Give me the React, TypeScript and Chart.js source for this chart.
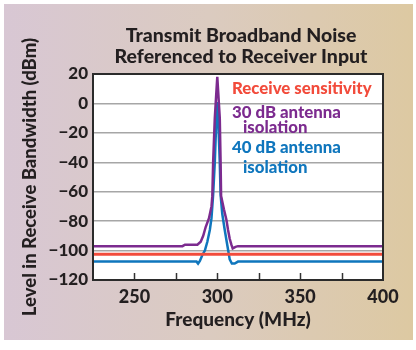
import { useEffect, useRef } from 'react';
import { Chart, registerables } from 'chart.js';

Chart.register(...registerables);

// ---- data ----
const titleLines = ['Transmit Broadband Noise', 'Referenced to Receiver Input'];
const xTitle = 'Frequency (MHz)';
const yTitle = 'Level in Receive Bandwidth (dBm)';
const xRange = [225, 400];
const yRange = [-120, 20];
const xTickStep = 25;
const xLabelStep = 50;
const yTickStep = 20;

const sensitivityFreq = [225, 400];
const sensitivityLevel = [-102.5, -102.5];

const iso30Freq = [225, 279, 280.5, 288, 290, 291.5, 293, 295, 296.5, 297, 297.5, 298.5, 300, 301.5, 302, 302.3, 304, 305.5, 306.5, 307.5, 308.5, 309.3, 311, 312.5, 400];
const iso30Level = [-97, -97, -96, -96, -94, -90, -84, -78, -70, -63, -40, -10, 18, -10, -40, -63, -72, -79, -86, -92, -96, -98.5, -97.5, -97, -97];

const iso40Freq = [225, 287.5, 288.4, 289.5, 291, 292.5, 294, 295.5, 296.5, 297.5, 298.5, 299.3, 300, 300.7, 301.5, 302, 303, 304.5, 306, 307.5, 308.8, 310.5, 312.5, 400];
const iso40Level = [-107.5, -107.5, -108.8, -107, -103, -100, -94, -86, -78, -62, -40, -15, 1, -15, -40, -62, -75, -86, -96, -106, -108.8, -108.8, -107.5, -107.5];

const legendLines = ['Receive sensitivity', '30 dB antenna', 'isolation', '40 dB antenna', 'isolation'];

// ---- styles ----
const RED = '#f24b3b';
const PURPLE = '#7c2b8f';
const BLUE = '#0f76bd';
const INK = '#231f20';
const FONT = 'Lato, "Open Sans", sans-serif';
const W = 900;
const legendColors = [RED, PURPLE, PURPLE, BLUE, BLUE];
const legendIndent = [0, 0, 11, 0, 11];
const legendBaseline = [20, 44, 59, 79, 99];

const toPoints = (xs: number[], ys: number[]) => xs.map((x, i) => ({ x, y: ys[i] }));

const decor = {
  id: 'decor',
  beforeDraw(chart: any) {
    const { ctx, chartArea: a } = chart;
    ctx.save();
    ctx.fillStyle = '#ffffff';
    ctx.fillRect(a.left, a.top, a.right - a.left, a.bottom - a.top);
    ctx.restore();
  },
  afterDraw(chart: any) {
    const { ctx, chartArea: a, scales } = chart;
    const xs = scales.x;
    ctx.save();
    ctx.strokeStyle = '#333333';
    ctx.lineWidth = 1.5;
    for (let v = xRange[0] + xTickStep; v < xRange[1]; v += xTickStep) {
      const px = Math.round(xs.getPixelForValue(v)) + 0.5;
      ctx.beginPath();
      ctx.moveTo(px, a.bottom);
      ctx.lineTo(px, a.bottom - 7);
      ctx.stroke();
    }
    ctx.strokeStyle = '#2b2b2b';
    ctx.lineWidth = 2;
    ctx.strokeRect(a.left, a.top, a.right - a.left, a.bottom - a.top);
    ctx.fillStyle = INK;
    ctx.font = `${W} 19.5px ${FONT}`;
    ctx.textAlign = 'center';
    ctx.textBaseline = 'alphabetic';
    const cx = (a.left + a.right) / 2 + 3;
    ctx.fillText(titleLines[0], cx, a.top - 32);
    ctx.fillText(titleLines[1], cx, a.top - 11);
    ctx.font = `${W} 16.8px ${FONT}`;
    ctx.textAlign = 'left';
    legendLines.forEach((t, i) => {
      ctx.fillStyle = legendColors[i];
      ctx.fillText(t, a.left + 139 + legendIndent[i], a.top + legendBaseline[i]);
    });
    ctx.restore();
  },
};

export default function App() {
  const ref = useRef<HTMLCanvasElement | null>(null);
  useEffect(() => {
    if (!ref.current) return;
    const chart = new Chart(ref.current, {
      type: 'line',
      data: {
        datasets: [
          { label: 'Receive sensitivity', data: toPoints(sensitivityFreq, sensitivityLevel), borderColor: RED, borderWidth: 3, pointRadius: 0, tension: 0 },
          { label: '30 dB antenna isolation', data: toPoints(iso30Freq, iso30Level), borderColor: PURPLE, borderWidth: 2.5, pointRadius: 0, tension: 0 },
          { label: '40 dB antenna isolation', data: toPoints(iso40Freq, iso40Level), borderColor: BLUE, borderWidth: 2.5, pointRadius: 0, tension: 0 },
        ],
      },
      options: {
        responsive: false,
        animation: false,
        layout: { padding: { left: 10, top: 74, right: 33, bottom: 10 } },
        plugins: { legend: { display: false }, tooltip: { enabled: false }, title: { display: false } },
        scales: {
          x: {
            type: 'linear',
            min: xRange[0],
            max: xRange[1],
            grid: { display: false, drawTicks: false },
            border: { display: false },
            ticks: {
              stepSize: xTickStep,
              padding: 6,
              color: INK,
              font: { family: FONT, weight: W, size: 18 },
              maxRotation: 0,
              autoSkip: false,
              callback: (v: any) => (Number(v) % xLabelStep === 0 && Number(v) !== xRange[0] ? String(v) : ''),
            },
            title: { display: true, text: xTitle, color: INK, font: { family: FONT, weight: W, size: 19 }, padding: { top: 0, bottom: 9 } },
            afterFit: (s: any) => { s.height = 60; },
          },
          y: {
            type: 'linear',
            min: yRange[0],
            max: yRange[1],
            grid: { color: '#a6a6a6', lineWidth: 1.5, drawTicks: false },
            border: { display: false },
            ticks: {
              stepSize: yTickStep,
              padding: 5,
              color: INK,
              font: { family: FONT, weight: W, size: 17 },
              callback: (v: any) => (Number(v) < 0 ? '\u2212' + Math.abs(Number(v)) : String(v)),
            },
            title: { display: true, text: yTitle, color: INK, font: { family: FONT, weight: W, size: 18.5 }, padding: { top: 9, bottom: 0 } },
            afterFit: (s: any) => { s.width = 83; },
          },
        },
      },
      plugins: [decor],
    });
    return () => chart.destroy();
  }, []);

  return (
    <div style={{ position: 'fixed', left: 0, top: 0, width: 416, height: 350, background: '#ffffff' }}>
      <div style={{ position: 'absolute', left: 4, top: 4, width: 409, height: 336, background: 'linear-gradient(to right, #d8c7d4 0%, #dbcbc0 50%, #ddc9a2 100%)' }} />
      <canvas ref={ref} width={416} height={350} style={{ position: 'absolute', left: 0, top: 0, display: 'block' }} />
    </div>
  );
}
